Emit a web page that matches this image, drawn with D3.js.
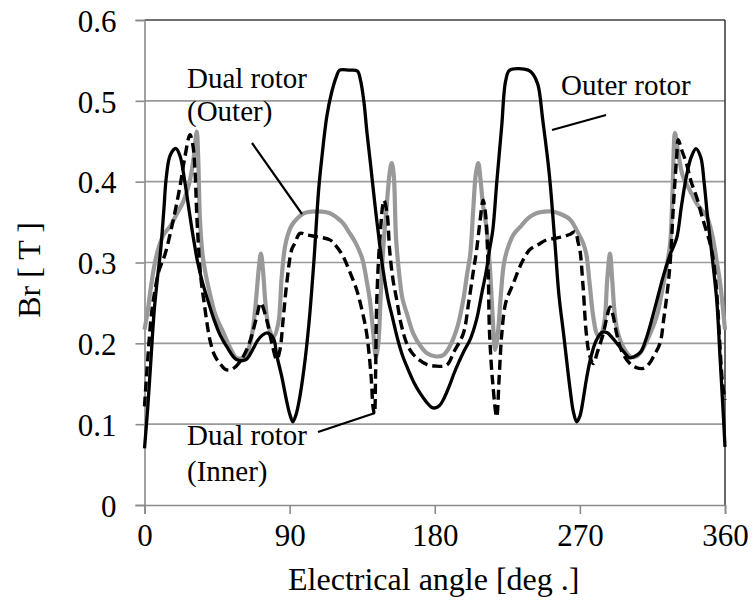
<!DOCTYPE html>
<html>
<head>
<meta charset="utf-8">
<script src="https://cdn.jsdelivr.net/npm/d3@7"></script>
<style>
  html, body { margin: 0; padding: 0; background: #fff; }
  svg { display: block; }
</style>
</head>
<body>
<svg id="chart" width="754" height="613"></svg>
<script>
// ---------- data ----------
const xTicks = [0, 90, 180, 270, 360];
const yTicks = [0, 0.1, 0.2, 0.3, 0.4, 0.5, 0.6];
const yTickLabels = ["0", "0.1", "0.2", "0.3", "0.4", "0.5", "0.6"];

const outerAngles = [0,2,4,6,8,10,12,13.5,16,19.5,22,25,28,30.5,33,36,39,43,47,51,57,63,67,70,73,76,80,82,85,88,90,92,94,96,99,102,105,108,110,113,116,119,121,127,132,134,136,138,140,143,146,148,151,154,157,160,163,167,171,175,178,180,183,186,189,192,195,198,202,206,209,212,214,216,218.5,221.5,224,226.5,238,241,244,247,251,254.5,257,260,264,266,268,270,272,274,276.5,280,284,287,290,293,297,301,305,308,311,314,318,322,326,330,333,336,339,342,345,347,349,351,353,355,357,359,360];
const outerValues = [0.07,0.12,0.18,0.24,0.28,0.315,0.365,0.405,0.433,0.441,0.432,0.40,0.36,0.328,0.30,0.275,0.255,0.23,0.21,0.196,0.18,0.18,0.192,0.203,0.21,0.213,0.206,0.185,0.16,0.13,0.113,0.103,0.112,0.13,0.17,0.225,0.30,0.39,0.43,0.48,0.51,0.53,0.538,0.538,0.537,0.525,0.50,0.46,0.425,0.37,0.32,0.29,0.255,0.23,0.205,0.185,0.17,0.152,0.138,0.127,0.121,0.12,0.123,0.133,0.147,0.163,0.177,0.19,0.205,0.23,0.26,0.29,0.316,0.34,0.40,0.468,0.525,0.538,0.538,0.533,0.52,0.476,0.41,0.325,0.26,0.21,0.142,0.115,0.103,0.11,0.13,0.155,0.18,0.203,0.214,0.213,0.207,0.20,0.19,0.182,0.185,0.19,0.205,0.225,0.255,0.285,0.31,0.33,0.37,0.406,0.43,0.441,0.43,0.40,0.36,0.325,0.29,0.25,0.18,0.11,0.072];

const dualOuterAngles = [0,2,4,6,9,12,16,20,24,28,30.5,32.4,33.3,34.4,36,38,40.5,44,49,53,57,61,64,67,69,71,72.2,73.5,75,77,80,83,85,87,89,91,95,99,104,110,115,119,123,127,131,135,138,140,142,143.5,145,146.5,148,150,152,153.3,154.5,156,158,160,163,166.7,171,175,180,185,189,194,197.7,200,202,204,205.5,207,208.5,210,212,214,216,217.4,219,221,223,226,229,233,238,243,248,253,258,264,268,272,274,276,278.3,280.5,282.5,284,285.6,287,288.7,290,291.8,294,297,301,304,307.3,312,317.6,321,323.8,326,327.5,329,331,334,338,342.4,345.5,348.7,352,355,357,360];
const dualOuterValues = [0.217,0.24,0.27,0.295,0.32,0.335,0.345,0.36,0.375,0.40,0.43,0.462,0.43,0.353,0.31,0.285,0.262,0.235,0.213,0.195,0.182,0.182,0.19,0.215,0.25,0.295,0.311,0.29,0.25,0.22,0.208,0.225,0.28,0.318,0.335,0.345,0.355,0.361,0.363,0.363,0.361,0.356,0.349,0.337,0.324,0.305,0.275,0.25,0.21,0.183,0.20,0.26,0.316,0.365,0.41,0.423,0.41,0.33,0.285,0.255,0.235,0.212,0.197,0.188,0.184,0.185,0.195,0.22,0.254,0.285,0.31,0.37,0.41,0.423,0.40,0.37,0.344,0.30,0.23,0.192,0.21,0.26,0.30,0.322,0.335,0.344,0.355,0.361,0.363,0.363,0.36,0.353,0.34,0.324,0.31,0.275,0.233,0.212,0.208,0.215,0.233,0.28,0.311,0.28,0.233,0.21,0.195,0.184,0.183,0.188,0.205,0.233,0.265,0.295,0.324,0.39,0.46,0.435,0.406,0.39,0.373,0.365,0.357,0.335,0.30,0.274,0.217];

const dualInnerAngles = [0,2,4,6,9,12.7,16.9,22,25,28.2,30,31.3,32.4,33.5,35,37,40.6,43.5,46.8,50,53,57,61.3,65,69.6,72,75.8,79,82,84,86,88.2,91.3,93.3,96.4,101,106.8,115,119,123.3,127,131.6,135,137.8,140.5,141.8,142.6,143.3,144,146,148.5,150.5,152,154,156.4,159,162.6,166,170,175,180,187.4,192,197.7,201,204,206,208,210,211.5,213,214,216,218.4,220,221.5,224,228.7,234,239,244,249.4,255,259.7,264,267,269,270,272,274,276,278.3,281,284.5,286.5,288.7,290.5,292.8,296,301,305,309.3,313,316,319.7,322,324,326,328,330,331,333,336,339,342.4,346,350.7,353,355,357,358.5,360];
const dualInnerValues = [0.122,0.18,0.23,0.26,0.29,0.31,0.344,0.394,0.43,0.458,0.445,0.415,0.36,0.32,0.28,0.25,0.204,0.185,0.175,0.168,0.167,0.172,0.184,0.20,0.233,0.25,0.229,0.20,0.18,0.192,0.23,0.274,0.316,0.324,0.336,0.334,0.332,0.328,0.32,0.307,0.29,0.266,0.24,0.212,0.16,0.12,0.113,0.16,0.25,0.33,0.377,0.36,0.316,0.28,0.254,0.225,0.20,0.188,0.18,0.174,0.172,0.173,0.19,0.212,0.25,0.29,0.316,0.35,0.377,0.36,0.30,0.212,0.15,0.109,0.16,0.21,0.25,0.274,0.30,0.316,0.322,0.328,0.33,0.332,0.335,0.338,0.324,0.316,0.27,0.212,0.185,0.175,0.19,0.212,0.23,0.245,0.235,0.212,0.19,0.175,0.17,0.169,0.175,0.185,0.20,0.23,0.26,0.30,0.37,0.43,0.452,0.44,0.423,0.40,0.381,0.355,0.324,0.30,0.26,0.192,0.15,0.13];

// ---------- layout ----------
const FONT = '"Liberation Serif"';
const svg = d3.select("#chart");
const pLeft = 144.5, pRight = 725, pTop = 20, pBottom = 505;
const x = d3.scaleLinear().domain([0, 360]).range([pLeft, pRight]);
const y = d3.scaleLinear().domain([0, 0.6]).range([pBottom, pTop]);

svg.append("rect").attr("width", 754).attr("height", 613).attr("fill", "#fff");

// gridlines
svg.append("g").selectAll("line").data(yTicks.filter(d => d > 0 && d < 0.6)).join("line")
  .attr("x1", pLeft).attr("x2", pRight)
  .attr("y1", d => y(d)).attr("y2", d => y(d))
  .attr("stroke", "#9a9a9a").attr("stroke-width", 1.6);

// top & right border
svg.append("line").attr("x1", pLeft).attr("x2", pRight).attr("y1", pTop).attr("y2", pTop)
  .attr("stroke", "#404040").attr("stroke-width", 1.6);
svg.append("line").attr("x1", pRight).attr("x2", pRight).attr("y1", pTop).attr("y2", pBottom)
  .attr("stroke", "#404040").attr("stroke-width", 1.6);

// axes
const xAxis = d3.axisBottom(x).tickValues(xTicks).tickSize(9).tickPadding(10).tickFormat(d3.format("d"));
const yAxis = d3.axisLeft(y).tickValues(yTicks).tickSize(9).tickPadding(19).tickFormat((d, i) => yTickLabels[i]);

const gx = svg.append("g").attr("transform", `translate(0,${pBottom})`).call(xAxis);
const gy = svg.append("g").attr("transform", `translate(${pLeft},0)`).call(yAxis);
[gx, gy].forEach(g => {
  g.select(".domain").attr("stroke", "#8a8a8a").attr("stroke-width", 1.6);
  g.selectAll(".tick line").attr("stroke", "#8a8a8a").attr("stroke-width", 1.6);
  g.selectAll(".tick text").style("font-family", FONT)
    .style("font-size", "31px").attr("fill", "#000");
});
gx.selectAll(".tick text").attr("dy", "0.71em");
gy.selectAll(".tick text").attr("dy", "0.36em");

// lines
const mk = (angles, values) => angles.map((a, i) => [a, values[i]]);
const line = d3.line().x(d => x(d[0])).y(d => y(d[1])).curve(d3.curveCatmullRom.alpha(0.5));

const plot = svg.append("g");
plot.append("path").datum(mk(dualOuterAngles, dualOuterValues))
  .attr("d", line).attr("fill", "none").attr("stroke", "#999").attr("stroke-width", 4.2)
  .attr("stroke-linejoin", "round");
plot.append("path").datum(mk(dualInnerAngles, dualInnerValues))
  .attr("d", line).attr("fill", "none").attr("stroke", "#000").attr("stroke-width", 3.4)
  .attr("stroke-dasharray", "10,5");
plot.append("path").datum(mk(outerAngles, outerValues))
  .attr("d", line).attr("fill", "none").attr("stroke", "#000").attr("stroke-width", 3.3)
  .attr("stroke-linejoin", "round");

// axis titles
const txt = (sel, size) => sel.style("font-family", FONT).style("font-size", size + "px").attr("fill", "#000");
txt(svg.append("text").attr("x", (pLeft + pRight) / 2 - 1).attr("y", 590).attr("text-anchor", "middle"), 32)
  .text("Electrical angle [deg .]");
txt(svg.append("text").attr("transform", "translate(40,270) rotate(-90)").attr("text-anchor", "middle"), 32)
  .text("Br [ T ]");

// annotations
txt(svg.append("text").attr("x", 187).attr("y", 88), 29).text("Dual rotor");
txt(svg.append("text").attr("x", 187).attr("y", 121), 29).text("(Outer)");
txt(svg.append("text").attr("x", 561).attr("y", 95), 29).text("Outer rotor");
txt(svg.append("text").attr("x", 187).attr("y", 445), 29).text("Dual rotor");
txt(svg.append("text").attr("x", 187).attr("y", 481), 29).text("(Inner)");

const leaders = svg.append("g").attr("stroke", "#000").attr("stroke-width", 2.2);
leaders.append("line").attr("x1", 252).attr("y1", 143).attr("x2", 302).attr("y2", 214);
leaders.append("line").attr("x1", 606).attr("y1", 115).attr("x2", 552).attr("y2", 130);
leaders.append("line").attr("x1", 318).attr("y1", 432).attr("x2", 375).attr("y2", 413);
</script>
</body>
</html>
